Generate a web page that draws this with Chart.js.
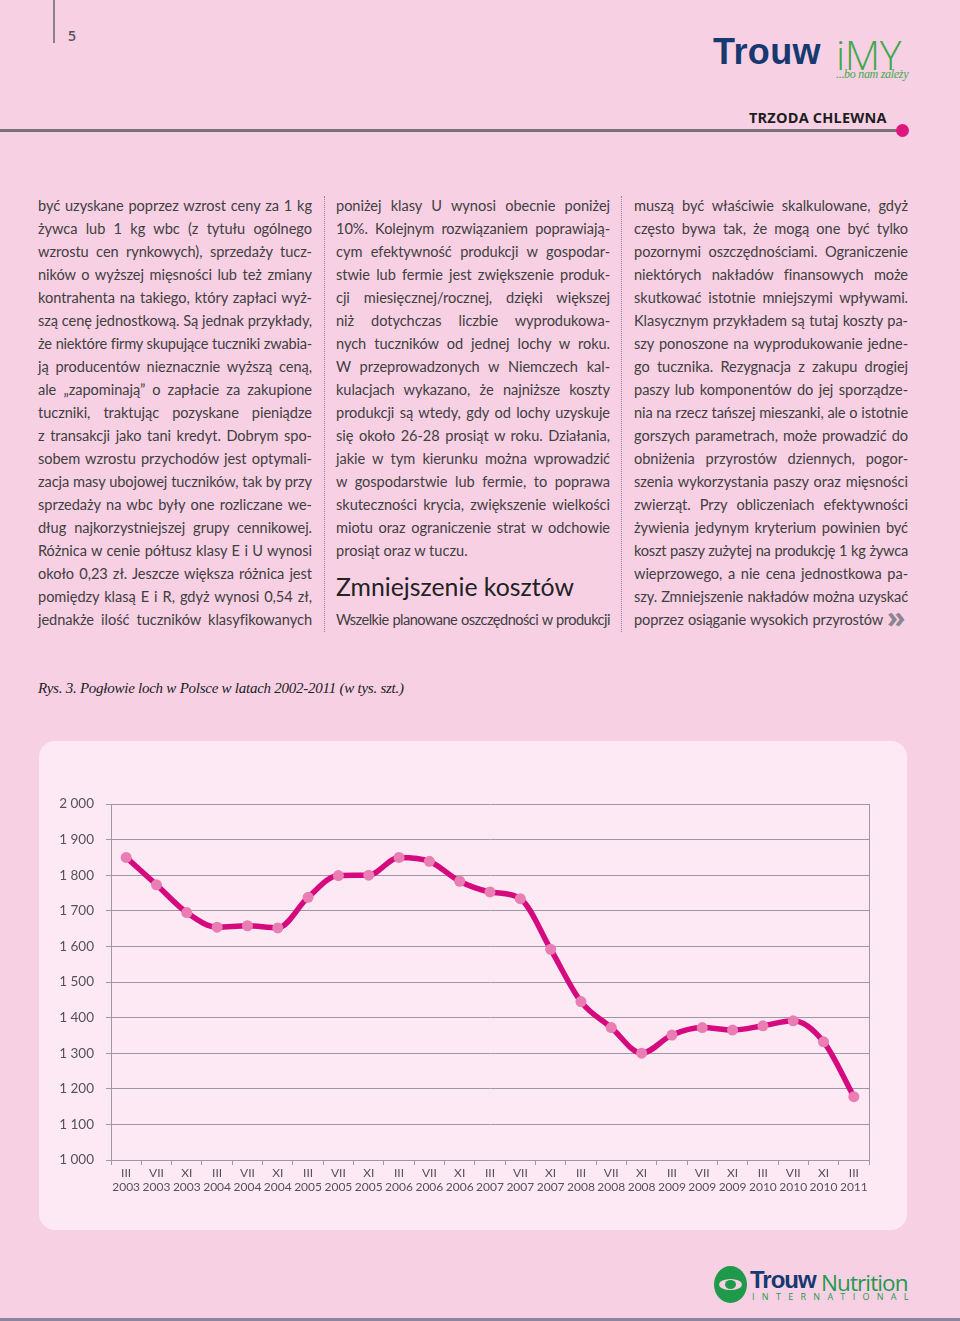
<!DOCTYPE html>
<html lang="pl">
<head>
<meta charset="utf-8">
<title>Pogłowie loch w Polsce 2002-2011</title>
<script src="https://cdn.jsdelivr.net/npm/chart.js@4.4.1/dist/chart.umd.min.js"></script>
<style>
  html, body { margin: 0; padding: 0; }
  body { width: 960px; height: 1321px; background: #f8d0e4; position: relative; overflow: hidden; font-family: Lato, "Open Sans", sans-serif; color: #404040; }
  .abs { position: absolute; }
  .col { position: absolute; top: 194px; width: 274px; font-size: 14.6px; line-height: 23px; font-weight: 400; }
  .col div { white-space: nowrap; text-align: justify; text-align-last: justify; height: 23px; }
  .col div.l { text-align-last: left; }
  .sep { position: absolute; top: 196px; height: 436px; width: 0; border-left: 1.5px dotted #8e8690; }
  #chartBox { position: absolute; left: 39px; top: 741px; width: 868px; height: 489px; background: #fce9f3; border-radius: 16px; }
  #chartWrap { position: absolute; left: 39px; top: 741px; width: 868px; height: 489px; }
</style>
</head>
<body>
<script>
// chart data: sow numbers in Poland (thousand head)
const months = ['III', 'VII', 'XI', 'III', 'VII', 'XI', 'III', 'VII', 'XI', 'III', 'VII', 'XI', 'III',
  'VII', 'XI', 'III', 'VII', 'XI', 'III', 'VII', 'XI', 'III', 'VII', 'XI', 'III'];
const years = ['2003', '2003', '2003', '2004', '2004', '2004', '2005', '2005', '2005', '2006', '2006', '2006', '2007',
  '2007', '2007', '2008', '2008', '2008', '2009', '2009', '2009', '2010', '2010', '2010', '2011'];
const sows = [1850, 1773, 1695, 1654, 1658, 1652, 1738, 1799, 1800, 1850, 1839, 1783, 1753,
  1734, 1592, 1445, 1372, 1300, 1351, 1372, 1365, 1377, 1391, 1332, 1178];
const yTicks = [1000, 1100, 1200, 1300, 1400, 1500, 1600, 1700, 1800, 1900, 2000];
</script>

<!-- header -->
<div class="abs" style="left:53px;top:0;width:1.5px;height:43px;background:#8a8189;"></div>
<div class="abs" style="left:68px;top:26px;font:600 14px 'Open Sans',sans-serif;color:#555;">5</div>
<div class="abs" style="left:713px;top:31px;font:700 36px 'Liberation Sans',Arial,sans-serif;color:#163a70;letter-spacing:0.4px;">Trouw</div>
<div class="abs" style="left:836px;top:26px;font:300 41px 'Open Sans',sans-serif;color:#3ea84a;letter-spacing:-0.5px;">iMY</div>
<div class="abs" style="left:836px;top:67px;font:italic 12px 'Liberation Serif',serif;color:#3ea84a;letter-spacing:-0.3px;">...bo nam zależy</div>
<div class="abs" style="left:749px;top:108px;font:700 14.5px 'Open Sans',sans-serif;color:#1d1d1d;letter-spacing:0.2px;">TRZODA CHLEWNA</div>
<div class="abs" style="left:0;top:129px;width:900px;height:3px;background:#78707c;"></div>
<div class="abs" style="left:896px;top:124px;width:13px;height:13px;border-radius:50%;background:#e0167f;"></div>

<!-- text columns -->
<div class="col" style="left:38px;">
  <div>być uzyskane poprzez wzrost ceny za 1 kg</div>
  <div>żywca lub 1 kg wbc (z tytułu ogólnego</div>
  <div>wzrostu cen rynkowych), sprzedaży tucz-</div>
  <div>ników o wyższej mięsności lub też zmiany</div>
  <div>kontrahenta na takiego, który zapłaci wyż-</div>
  <div>szą cenę jednostkową. Są jednak przykłady,</div>
  <div>że niektóre firmy skupujące tuczniki zwabia-</div>
  <div>ją producentów nieznacznie wyższą ceną,</div>
  <div>ale „zapominają” o zapłacie za zakupione</div>
  <div>tuczniki, traktując pozyskane pieniądze</div>
  <div>z transakcji jako tani kredyt. Dobrym spo-</div>
  <div>sobem wzrostu przychodów jest optymali-</div>
  <div>zacja masy ubojowej tuczników, tak by przy</div>
  <div>sprzedaży na wbc były one rozliczane we-</div>
  <div>dług najkorzystniejszej grupy cennikowej.</div>
  <div>Różnica w cenie półtusz klasy E i U wynosi</div>
  <div>około 0,23 zł. Jeszcze większa różnica jest</div>
  <div>pomiędzy klasą E i R, gdyż wynosi 0,54 zł,</div>
  <div>jednakże ilość tuczników klasyfikowanych</div>
</div>
<div class="sep" style="left:324px;"></div>
<div class="col" style="left:336px;">
  <div>poniżej klasy U wynosi obecnie poniżej</div>
  <div>10%. Kolejnym rozwiązaniem poprawiają-</div>
  <div>cym efektywność produkcji w gospodar-</div>
  <div>stwie lub fermie jest zwiększenie produk-</div>
  <div>cji miesięcznej/rocznej, dzięki większej</div>
  <div>niż dotychczas liczbie wyprodukowa-</div>
  <div>nych tuczników od jednej lochy w roku.</div>
  <div>W przeprowadzonych w Niemczech kal-</div>
  <div>kulacjach wykazano, że najniższe koszty</div>
  <div>produkcji są wtedy, gdy od lochy uzyskuje</div>
  <div>się około 26-28 prosiąt w roku. Działania,</div>
  <div>jakie w tym kierunku można wprowadzić</div>
  <div>w gospodarstwie lub fermie, to poprawa</div>
  <div>skuteczności krycia, zwiększenie wielkości</div>
  <div>miotu oraz ograniczenie strat w odchowie</div>
  <div class="l">prosiąt oraz w tuczu.</div>
  <div class="l" style="height:46px;font-size:24.8px;line-height:50px;color:#222;white-space:nowrap;">Zmniejszenie kosztów</div>
  <div>Wszelkie planowane oszczędności w produkcji</div>
</div>
<div class="sep" style="left:621px;"></div>
<div class="col" style="left:634px;">
  <div>muszą być właściwie skalkulowane, gdyż</div>
  <div>często bywa tak, że mogą one być tylko</div>
  <div>pozornymi oszczędnościami. Ograniczenie</div>
  <div>niektórych nakładów finansowych może</div>
  <div>skutkować istotnie mniejszymi wpływami.</div>
  <div>Klasycznym przykładem są tutaj koszty pa-</div>
  <div>szy ponoszone na wyprodukowanie jedne-</div>
  <div>go tucznika. Rezygnacja z zakupu drogiej</div>
  <div>paszy lub komponentów do jej sporządze-</div>
  <div>nia na rzecz tańszej mieszanki, ale o istotnie</div>
  <div>gorszych parametrach, może prowadzić do</div>
  <div>obniżenia przyrostów dziennych, pogor-</div>
  <div>szenia wykorzystania paszy oraz mięsności</div>
  <div>zwierząt. Przy obliczeniach efektywności</div>
  <div>żywienia jedynym kryterium powinien być</div>
  <div>koszt paszy zużytej na produkcję 1 kg żywca</div>
  <div>wieprzowego, a nie cena jednostkowa pa-</div>
  <div>szy. Zmniejszenie nakładów można uzyskać</div>
  <div style="width:249px;">poprzez osiąganie wysokich przyrostów</div>
</div>
<div class="abs" style="left:887px;top:596px;font:700 30px 'Open Sans',sans-serif;color:#8a8590;">»</div>

<!-- figure caption -->
<div class="abs" style="left:38px;top:680px;font:italic 15px 'Liberation Serif',serif;color:#222;letter-spacing:-0.25px;">Rys. 3. Pogłowie loch w Polsce w latach 2002-2011 (w tys. szt.)</div>

<div id="chartBox"></div>
<div id="chartWrap"><canvas id="sowChart"></canvas></div>

<!-- footer logo -->
<div class="abs" style="left:714px;top:1266px;width:33px;height:37px;border-radius:50%;background:#1e9a4a;"></div>
<div class="abs" style="left:719px;top:1279px;width:23px;height:11px;border-radius:50%;background:#f8d0e4;"></div>
<div class="abs" style="left:725px;top:1280px;width:11px;height:9px;border-radius:50%;background:#1e9a4a;"></div>
<div class="abs" style="left:750px;top:1266px;font:700 24px 'Liberation Sans',Arial,sans-serif;color:#163a70;letter-spacing:-1px;">Trouw</div>
<div class="abs" style="left:821px;top:1267px;font:400 22.5px 'Open Sans',sans-serif;color:#1e9a4a;letter-spacing:-0.9px;">Nutrition</div>
<div class="abs" style="left:752px;top:1290px;font:400 9px 'Open Sans',sans-serif;color:#1e9a4a;letter-spacing:7.3px;">INTERNATIONAL</div>
<div class="abs" style="left:0;top:1318px;width:960px;height:3px;background:#8d84a0;"></div>

<script>
  // squeeze text lines that are too wide for their column
  document.querySelectorAll('.col div').forEach((d) => {
    const w = d.clientWidth;
    const probe = document.createElement('span');
    probe.textContent = d.textContent;
    probe.style.whiteSpace = 'nowrap';
    d.textContent = '';
    d.appendChild(probe);
    const nat = probe.offsetWidth;
    const txt = probe.textContent;
    d.textContent = txt;
    if (nat > w - 2) {
      const ls = (w - 2 - nat) / txt.length;
      d.style.letterSpacing = ls.toFixed(3) + 'px';
    }
  });

  const grey = '#9f98a2';
  const labels = months.map((m, i) => [m, years[i]]);

  const ctx = document.getElementById('sowChart').getContext('2d');
  new Chart(ctx, {
    type: 'line',
    data: {
      labels: labels,
      datasets: [{
        label: 'Pogłowie loch',
        data: sows,
        borderColor: '#d50a7f',
        borderWidth: 5.5,
        cubicInterpolationMode: 'monotone',
        pointRadius: 5.5,
        pointHoverRadius: 5.5,
        pointBackgroundColor: '#ea7db3',
        pointBorderWidth: 0,
        fill: false,
      }],
    },
    options: {
      responsive: true,
      maintainAspectRatio: false,
      animation: false,
      layout: { padding: { top: 63, right: 38, bottom: 18, left: 0 } },
      plugins: { legend: { display: false }, tooltip: { enabled: false } },
      scales: {
        x: {
          offset: true,
          grid: { offset: true, drawOnChartArea: false, color: grey, tickLength: 5 },
          border: { display: true, color: grey, width: 1 },
          ticks: {
            autoSkip: false, maxRotation: 0, padding: 1,
            color: '#55505a',
            font: { family: 'Lato', size: 12 },
          },
          afterFit: (s) => { s.height = 52; },
        },
        y: {
          min: 1000, max: 2000,
          afterBuildTicks: (s) => { s.ticks = yTicks.map((v) => ({ value: v })); },
          grid: { color: grey, lineWidth: 1, tickLength: 5 },
          border: { display: true, color: grey, width: 1 },
          ticks: {
            padding: 12,
            color: '#55505a',
            font: { family: 'Lato', size: 13.5 },
            callback: (v) => String(v).replace(/\B(?=(\d{3})+(?!\d))/g, ' '),
          },
          afterFit: (s) => { s.width = 72; },
        },
        y2: {
          position: 'right',
          min: 1000, max: 2000,
          grid: { display: false },
          ticks: { display: false },
          border: { display: true, color: grey, width: 1 },
          afterFit: (s) => { s.width = 0; },
        },
      },
    },
  });
</script>
</body>
</html>
